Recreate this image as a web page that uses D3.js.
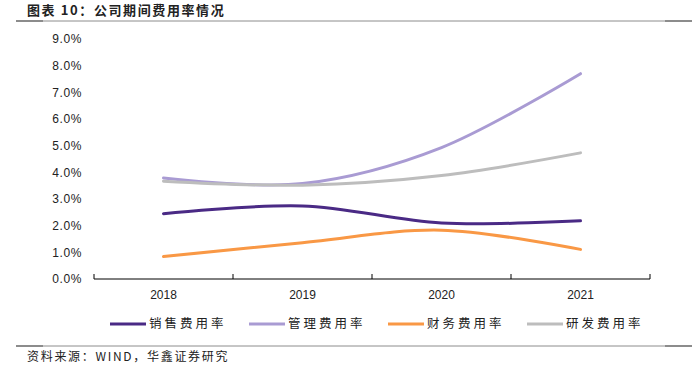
<!DOCTYPE html>
<html>
<head>
<meta charset="utf-8">
<script src="https://cdn.jsdelivr.net/npm/d3@7"></script>
<style>
  body { margin: 0; background: #fff; }
  svg { display: block; font-family: "Liberation Sans", "Noto Sans CJK SC", sans-serif; }
</style>
</head>
<body>
<svg width="693" height="367"></svg>
<script>
// data
const years = ["2018", "2019", "2020", "2021"];
const sales = [2.45, 2.74, 2.1, 2.18];
const admin = [3.79, 3.58, 4.93, 7.7];
const finance = [0.84, 1.36, 1.83, 1.11];
const rnd = [3.67, 3.52, 3.88, 4.73];
const yTicks = [0, 1, 2, 3, 4, 5, 6, 7, 8, 9];

const series = [
  { name: "销售费用率", values: sales, color: "#4a2a85" },
  { name: "管理费用率", values: admin, color: "#a99bd3" },
  { name: "财务费用率", values: finance, color: "#f99845" },
  { name: "研发费用率", values: rnd, color: "#bdbdbd" },
];

const svg = d3.select("svg");
const cjk = '"Noto Sans CJK SC", sans-serif';

// title + header rule
svg.append("text")
  .attr("x", 27).attr("y", 15)
  .attr("font-family", cjk)
  .attr("font-size", 13).attr("font-weight", "bold")
  .attr("letter-spacing", 1.6)
  .attr("fill", "#222")
  .text("图表 10：公司期间费用率情况");

function rule(y) {
  svg.append("line").attr("x1", 16).attr("x2", 692).attr("y1", y).attr("y2", y)
    .attr("stroke", "#8c8c8c").attr("stroke-width", 1);
  svg.append("line").attr("x1", 16).attr("x2", 43).attr("y1", y).attr("y2", y)
    .attr("stroke", "#8c8c8c").attr("stroke-width", 2);
  svg.append("line").attr("x1", 665).attr("x2", 692).attr("y1", y).attr("y2", y)
    .attr("stroke", "#8c8c8c").attr("stroke-width", 2);
}
rule(21);
rule(346);

// scales
const x = d3.scaleBand().domain(years).range([94, 650]);
const y = d3.scaleLinear().domain([0, 9]).range([279, 39]);

// y labels (no axis line)
svg.append("g")
  .selectAll("text")
  .data(yTicks)
  .enter()
  .append("text")
  .attr("x", 82)
  .attr("y", (d) => y(d))
  .attr("dy", "0.35em")
  .attr("text-anchor", "end")
  .attr("font-size", 12)
  .attr("letter-spacing", 0.6)
  .attr("fill", "#222")
  .text((d) => d.toFixed(1) + "%");

// x axis, ticks pointing up
const xAxis = svg.append("g")
  .attr("transform", "translate(0,279)")
  .call(d3.axisBottom(x).tickSize(0).tickPadding(11));
xAxis.select(".domain").remove();
xAxis.selectAll("text").attr("font-size", 12).attr("fill", "#222")
  .attr("font-family", '"Liberation Sans", sans-serif');
xAxis.append("line").attr("x1", 94).attr("x2", 650).attr("stroke", "#000");
const edges = years.map((d) => x(d)).concat([650]);
xAxis.selectAll(".edge").data(edges).enter().append("line")
  .attr("class", "edge")
  .attr("x1", (d) => d).attr("x2", (d) => d)
  .attr("y1", 0).attr("y2", -5)
  .attr("stroke", "#000");

// lines
const line = d3.line()
  .x((d, i) => x(years[i]) + x.bandwidth() / 2)
  .y((d) => y(d))
  .curve(d3.curveCardinal.tension(0));

svg.append("g")
  .selectAll("path")
  .data(series)
  .enter()
  .append("path")
  .attr("d", (s) => line(s.values))
  .attr("fill", "none")
  .attr("stroke", (s) => s.color)
  .attr("stroke-width", 3)
  .attr("stroke-linecap", "round");

// legend
const legend = svg.append("g")
  .selectAll("g")
  .data(series)
  .enter()
  .append("g")
  .attr("transform", (s, i) => "translate(" + (110 + i * 139) + ",324)");
legend.append("line")
  .attr("x1", 0).attr("x2", 36)
  .attr("stroke", (s) => s.color)
  .attr("stroke-width", 3);
legend.append("text")
  .attr("x", 39).attr("dy", "0.35em")
  .attr("font-family", cjk)
  .attr("font-size", 12.5)
  .attr("letter-spacing", 3)
  .attr("fill", "#222")
  .text((s) => s.name);

// source
svg.append("text")
  .attr("x", 27).attr("y", 361)
  .attr("font-family", cjk)
  .attr("font-size", 12)
  .attr("letter-spacing", 1.7)
  .attr("fill", "#222")
  .text("资料来源：WIND，华鑫证券研究");
</script>
</body>
</html>
